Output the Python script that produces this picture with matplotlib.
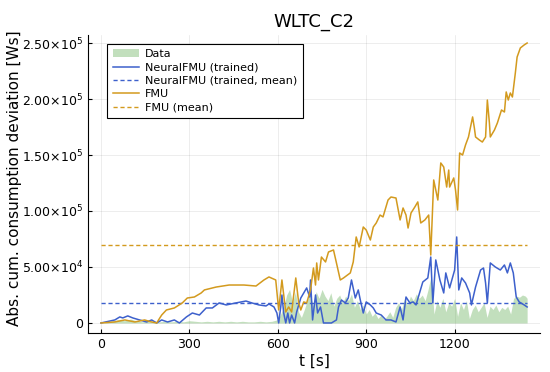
import matplotlib
matplotlib.use("Agg")
import matplotlib.pyplot as plt
from matplotlib.ticker import FuncFormatter

# ---- data (time in s, values in Ws) ----
fmu_t = [0, 47, 81, 115, 148, 172, 189, 206, 222, 249, 276, 293, 317, 340, 351, 391, 435, 485, 526,
         553, 570, 593, 603, 614, 627, 637, 647, 661, 671, 678, 688, 698, 711, 721, 728, 732, 738, 748,
         762, 772, 789, 799, 812, 823, 846, 856, 866, 876, 890, 900, 914, 924, 934, 947, 957, 974, 984,
         1001, 1015, 1025, 1035, 1042, 1052, 1065, 1075, 1085, 1099, 1112, 1119, 1129, 1143, 1153, 1163,
         1173, 1180, 1183, 1197, 1203, 1210, 1217, 1227, 1237, 1247, 1261, 1267, 1271, 1284, 1294, 1305,
         1311, 1318, 1321, 1335, 1345, 1359, 1369, 1375, 1382, 1389, 1396, 1406, 1412, 1423, 1436, 1446]
fmu_k = [0, 0.9, 2.7, 0.9, 2.7, 0.9, 0, 7.1, 11.6, 13.4, 17.9, 22.3, 23.2, 26.8, 29.5, 32.1, 33.9, 33.9, 33.0,
         38.4, 41.1, 38.4, 11.6, 38.4, 9.8, 14.3, 9.8, 40.2, 17.9, 11.6, 18.8, 17.9, 29.5, 49.1, 33.9, 53.6, 38.4, 58.9,
         54.5, 63.4, 65.2, 53.6, 38.4, 40.2, 44.7, 54.5, 76.8, 67.9, 85.7, 83.0, 74.1, 85.7, 89.3, 96.4, 94.7, 109.8, 112.5,
         111.6, 92.0, 102.7, 96.4, 84.8, 98.2, 103.6, 108.1, 89.3, 92.0, 96.4, 60.7, 127.7, 109.8, 142.9, 139.3,
         121.4, 136.6, 121.4, 129.5, 118.8, 100.9, 151.8, 150.0, 159.0, 166.1, 184.0, 174.1, 166.1, 163.4, 161.6, 166.1,
         199.1, 178.6, 166.1, 172.3, 178.6, 190.2, 188.4, 206.3, 199.1, 205.4, 201.8, 223.3, 237.5, 245.6, 248.3, 250.0]

nfmu_t = [0, 47, 64, 74, 91, 108, 131, 155, 172, 189, 206, 226, 249, 266, 290, 310, 334, 357, 378, 401, 425,
          458, 492, 512, 536, 560, 570, 587, 597, 603, 610, 614, 620, 627, 634, 640, 647, 657, 664, 678, 688, 698,
          708, 711, 718, 728, 735, 745, 755, 782, 799, 806, 816, 829, 839, 850, 863, 873, 880, 890, 900, 914, 924,
          934, 951, 967, 984, 1001, 1015, 1025, 1035, 1048, 1059, 1069, 1082, 1092, 1109, 1119, 1126, 1136, 1150,
          1163, 1170, 1183, 1200, 1207, 1214, 1224, 1237, 1251, 1257, 1271, 1288, 1298, 1305, 1311, 1321, 1338,
          1355, 1369, 1379, 1389, 1399, 1409, 1419, 1436, 1446]
nfmu_k = [0, 2.7, 5.4, 4.5, 6.3, 4.5, 2.7, 0.9, 2.7, 0, 2.7, 0.9, 2.7, 0, 5.4, 8.9, 7.1, 13.4, 13.4, 17.9, 16.1,
          17.9, 19.6, 17.9, 16.1, 15.2, 17.0, 14.3, 8.9, 0, 14.3, 25.0, 8.9, 0, 8.9, 0, 7.1, 0, 9.8, 22.3, 26.8, 31.3,
          23.2, 38.4, 2.7, 25.0, 8.9, 14.3, 0, 0, 2.7, 14.3, 20.5, 17.9, 22.3, 38.4, 22.3, 29.5, 20.5, 8.9, 18.8, 16.1, 13.4,
          8.9, 7.1, 2.7, 2.7, 0.9, 14.3, 2.7, 23.2, 17.9, 18.8, 16.1, 27.7, 36.6, 40.2, 58.9, 17.9, 56.3, 38.4,
          26.8, 44.7, 31.3, 47.3, 76.8, 29.5, 40.2, 35.7, 26.8, 16.1, 32.1, 47.3, 49.1, 35.7, 17.9, 53.6, 50.0,
          47.3, 51.8, 44.7, 53.6, 44.7, 23.2, 18.8, 16.1, 14.3]

data_t = [0, 20, 40, 60, 80, 100, 120, 140, 160, 180, 200, 220, 240, 260, 280, 300, 320, 340, 360, 380,
          400, 420, 440, 460, 480, 500, 520, 540, 560, 580,
          600, 610, 620, 630, 640, 650, 660, 670, 680, 690, 700, 710, 720, 730, 740, 750, 760, 770, 780, 790,
          800, 810, 820, 830, 840, 850, 860, 870, 880, 890, 900, 910, 920, 930, 940, 950, 960, 970, 980, 990,
          1000, 1010, 1020, 1030, 1040, 1050, 1060, 1070, 1080, 1090, 1100, 1110, 1120, 1130, 1140, 1150, 1160,
          1170, 1180, 1190, 1200, 1210, 1220, 1230, 1240, 1250, 1260, 1270, 1280, 1290, 1300, 1310, 1320, 1330,
          1340, 1350, 1360, 1370, 1380, 1390, 1400, 1410, 1420, 1430, 1440, 1446]
data_k = [0, 0.5, 2, 3, 2, 3.5, 2, 1, 2, 1, 1, 1.5, 1, 1.5, 1, 2, 1.5, 1, 1.5, 1,
          1.5, 1, 1.5, 1, 1.5, 1, 1, 1.5, 1, 1.5,
          3, 8, 14, 25, 30, 18, 28, 10, 5, 12, 20, 26, 15, 28, 22, 30, 24, 20, 27, 15,
          22, 25, 18, 24, 20, 26, 14, 20, 12, 16, 8, 12, 6, 9, 4, 7, 3, 6, 10, 5,
          14, 18, 12, 22, 16, 24, 20, 26, 22, 25, 20, 30, 42, 8, 20, 14, 22,
          10, 18, 15, 22, 6, 18, 12, 20, 4, 12, 16, 10, 14, 18, 5, 15, 12,
          16, 10, 14, 12, 15, 8, 22, 24, 23, 25, 24, 22]

nfmu_mean_k = 17.9
fmu_mean_k = 69.6

title = "WLTC_C2"
xlabel = "t [s]"
ylabel = "Abs. cum. consumption deviation [Ws]"
xticks = [0, 300, 600, 900, 1200]
yticks = [0, 50000, 100000, 150000, 200000, 250000]

c_data = "#389826"
c_nfmu = "#3D60CC"
c_fmu = "#D39A1E"

plt.rcParams['mathtext.fontset'] = 'dejavusans'
fig = plt.figure(figsize=(5.5, 3.72), dpi=100)
ax = fig.add_axes([0.16, 0.105, 0.822, 0.801])

k = 1000.0
ax.fill_between(data_t, 0, [v * k for v in data_k], color=c_data, alpha=0.3, linewidth=0, label="Data")
ax.plot(nfmu_t, [v * k for v in nfmu_k], color=c_nfmu, lw=1.1, label="NeuralFMU (trained)")
ax.plot([nfmu_t[0], nfmu_t[-1]], [nfmu_mean_k * k] * 2, color=c_nfmu, lw=1.0, ls=(0, (3, 2)),
        label="NeuralFMU (trained, mean)")
ax.plot(fmu_t, [v * k for v in fmu_k], color=c_fmu, lw=1.1, label="FMU")
ax.plot([fmu_t[0], fmu_t[-1]], [fmu_mean_k * k] * 2, color=c_fmu, lw=1.0, ls=(0, (3, 2)),
        label="FMU (mean)")

ax.set_xlim(-44, 1490)
ax.set_ylim(-8900, 257200)
ax.set_xticks(xticks)
ax.set_yticks(yticks)


def yfmt(v, pos):
    if v == 0:
        return "0"
    e = len(str(int(v))) - 1
    m = v / 10 ** e
    return r"$%.2f{\times}10^{%d}$" % (m, e)


ax.yaxis.set_major_formatter(FuncFormatter(yfmt))
ax.tick_params(direction='in', length=3, labelsize=9, width=0.8)
for s in ["top", "right"]:
    ax.spines[s].set_visible(False)
ax.grid(True, color="#000000", alpha=0.1, lw=0.5)
ax.set_axisbelow(True)

ax.set_title(title, fontsize=13)
ax.set_xlabel(xlabel, fontsize=11, labelpad=2)
ax.set_ylabel(ylabel, fontsize=11)
ax.yaxis.set_label_coords(-0.146, 0.52)

leg = ax.legend(loc="upper left", fontsize=8, frameon=True, fancybox=False, edgecolor="black",
                framealpha=1, borderpad=0.5, labelspacing=0.3, handlelength=2.4, handletextpad=0.5,
                bbox_to_anchor=(0.03, 0.99))
leg.get_frame().set_linewidth(0.8)

fig.savefig("out.png", dpi=100)
